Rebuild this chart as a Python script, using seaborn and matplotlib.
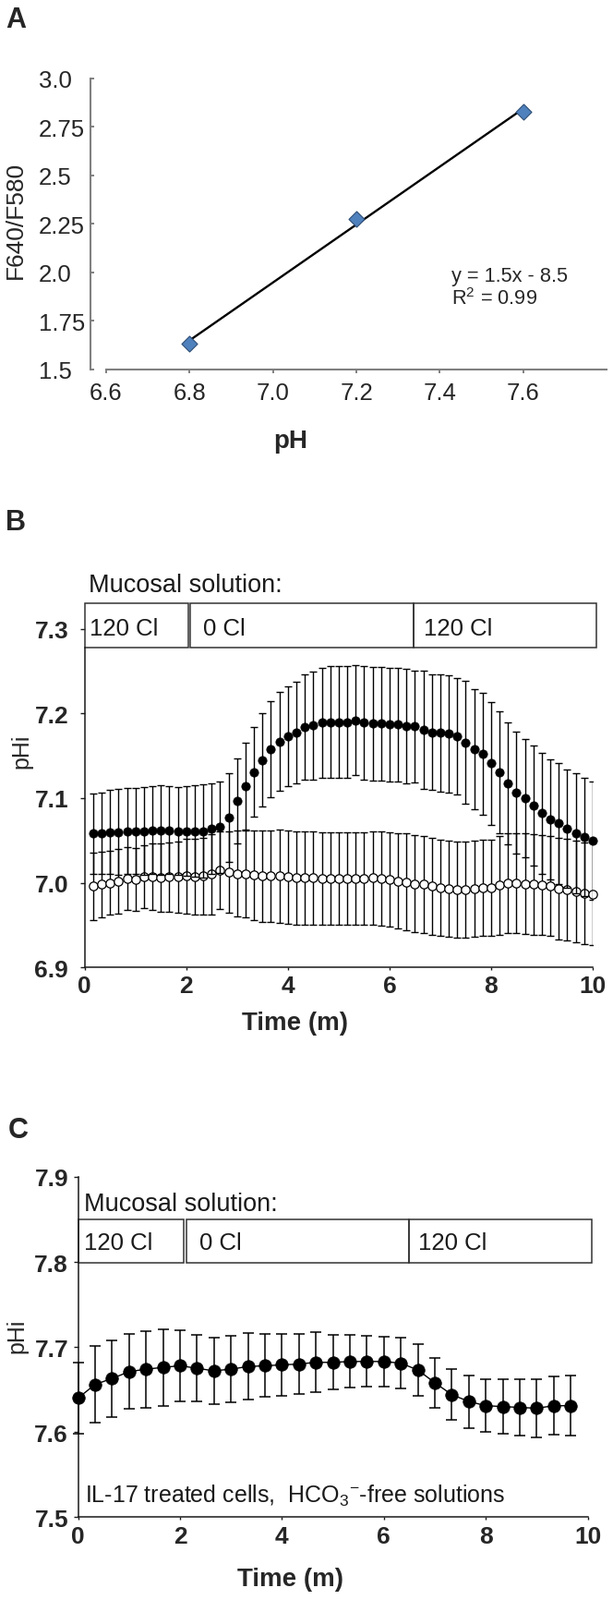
import numpy as np
import pandas as pd
import matplotlib
matplotlib.use('Agg')
import matplotlib.pyplot as plt
import seaborn as sns
from matplotlib.patches import Rectangle

sns.set_style('ticks')
plt.rcParams['font.family'] = ['Liberation Sans', 'DejaVu Sans']
plt.rcParams['mathtext.fontset'] = 'custom'
plt.rcParams['mathtext.rm'] = 'Liberation Sans'

# ---- panel A: calibration of the dye
calib_ph = [6.8, 7.2, 7.6]
calib_ratio = [1.633, 2.277, 2.827]

# ---- panel B: pHi in 10 s steps
time_b_s = [10, 20, 30, 40, 50, 60, 70, 80, 90, 100, 110, 120, 130, 140, 150,
            160, 170, 180, 190, 200, 210, 220, 230, 240, 250, 260, 270, 280, 290, 300,
            310, 320, 330, 340, 350, 360, 370, 380, 390, 400, 410, 420, 430, 440, 450,
            460, 470, 480, 490, 500, 510, 520, 530, 540, 550, 560, 570, 580, 590, 600]
phi_filled = [7.058, 7.059, 7.060, 7.060, 7.061, 7.061, 7.061, 7.062, 7.062, 7.062,
              7.061, 7.061, 7.061, 7.061, 7.064, 7.066, 7.077, 7.097, 7.114, 7.131,
              7.145, 7.158, 7.167, 7.173, 7.178, 7.184, 7.186, 7.189, 7.190, 7.190,
              7.190, 7.192, 7.189, 7.188, 7.188, 7.187, 7.187, 7.185, 7.185, 7.181,
              7.178, 7.177, 7.176, 7.173, 7.166, 7.158, 7.152, 7.141, 7.131, 7.117,
              7.107, 7.100, 7.091, 7.082, 7.075, 7.070, 7.064, 7.059, 7.054, 7.050]
sem_filled = [0.047, 0.048, 0.050, 0.051, 0.051, 0.051, 0.052, 0.052, 0.053, 0.052,
              0.052, 0.053, 0.054, 0.055, 0.053, 0.054, 0.052, 0.050, 0.052, 0.053,
              0.055, 0.057, 0.058, 0.059, 0.060, 0.062, 0.064, 0.065, 0.066, 0.066,
              0.066, 0.065, 0.067, 0.067, 0.067, 0.067, 0.067, 0.068, 0.066, 0.070,
              0.068, 0.069, 0.069, 0.069, 0.073, 0.071, 0.072, 0.073, 0.072, 0.072,
              0.072, 0.070, 0.071, 0.071, 0.071, 0.071, 0.070, 0.071, 0.070, 0.070]
phi_open = [6.996, 6.998, 7.000, 7.002, 7.005, 7.004, 7.007, 7.007, 7.006, 7.007,
            7.007, 7.008, 7.007, 7.008, 7.010, 7.015, 7.013, 7.011, 7.011, 7.009,
            7.008, 7.008, 7.008, 7.007, 7.006, 7.006, 7.006, 7.005, 7.005, 7.005,
            7.005, 7.005, 7.005, 7.006, 7.005, 7.004, 7.002, 7.001, 6.999, 6.998,
            6.996, 6.994, 6.993, 6.992, 6.992, 6.993, 6.994, 6.994, 6.997, 7.000,
            7.000, 6.999, 6.998, 6.997, 6.996, 6.993, 6.992, 6.990, 6.988, 6.987]
sem_open = [0.040, 0.039, 0.038, 0.038, 0.037, 0.037, 0.037, 0.039, 0.040, 0.041,
            0.042, 0.044, 0.045, 0.045, 0.047, 0.046, 0.048, 0.051, 0.052, 0.053,
            0.054, 0.054, 0.055, 0.055, 0.055, 0.055, 0.055, 0.055, 0.055, 0.055,
            0.055, 0.055, 0.055, 0.055, 0.056, 0.056, 0.056, 0.057, 0.057, 0.057,
            0.057, 0.057, 0.057, 0.057, 0.057, 0.057, 0.057, 0.057, 0.058, 0.059,
            0.059, 0.059, 0.059, 0.059, 0.059, 0.060, 0.060, 0.060, 0.060, 0.061]

# ---- panel C: IL-17 treated cells, 20 s steps
time_c_s = [0, 20, 40, 60, 80, 100, 120, 140, 160, 180, 200, 220, 240, 260, 280,
            300, 320, 340, 360, 380, 400, 420, 440, 460, 480, 500, 520, 540, 560, 580]
phi_c = [7.640, 7.656, 7.663, 7.671, 7.674, 7.676, 7.678, 7.675, 7.672, 7.674,
         7.677, 7.678, 7.679, 7.680, 7.682, 7.682, 7.683, 7.683, 7.683, 7.681,
         7.673, 7.658, 7.644, 7.636, 7.631, 7.630, 7.629, 7.628, 7.631, 7.631]
sem_c = [0.042, 0.045, 0.045, 0.044, 0.045, 0.045, 0.042, 0.039, 0.039, 0.039,
         0.039, 0.037, 0.036, 0.035, 0.035, 0.032, 0.031, 0.030, 0.029, 0.030,
         0.030, 0.029, 0.030, 0.031, 0.031, 0.032, 0.033, 0.034, 0.034, 0.035]

# solution bars: (start, end, label, label x)  in minutes
segments_b = [(0.0, 2.04, '120 Cl', 0.10), (2.08, 6.48, '0 Cl', 2.33), (6.48, 10.07, '120 Cl', 6.67)]
segments_c = [(0.0, 2.07, '120 Cl', 0.116), (2.12, 6.50, '0 Cl', 2.375), (6.50, 10.08, '120 Cl', 6.667)]

calib = pd.DataFrame({'ph': calib_ph, 'ratio': calib_ratio})
df_b = pd.DataFrame({'t': np.array(time_b_s) / 60, 'filled': phi_filled, 'sem_f': sem_filled,
                     'open': phi_open, 'sem_o': sem_open})
df_c = pd.DataFrame({'t': np.array(time_c_s) / 60, 'phi': phi_c, 'sem': sem_c})

W, H = 664, 1733
fig = plt.figure(figsize=(W / 100, H / 100), dpi=100)


def place(left, top, right, bottom):
    return [left / W, 1 - bottom / H, (right - left) / W, (bottom - top) / H]


axA = fig.add_axes(place(115, 85.7, 657, 400.7))
axB = fig.add_axes(place(91.7, 654.2, 642, 1048.3))
axC = fig.add_axes(place(84.6, 1275, 636.6, 1643.3))

# ---------------- A
grey = '#808080'
txt = '#262626'
sns.regplot(x='ph', y='ratio', data=calib, ax=axA, ci=None, marker='D',
            scatter_kws=dict(s=75, color='#4f81bd', edgecolor='#2c4d75', linewidths=0.8,
                             alpha=1, zorder=3),
            line_kws=dict(color='black', lw=1.7, zorder=2))
axA.set_xlim(6.6, 7.8)
axA.set_ylim(1.5, 3.0)
axA.set_xticks([6.6, 6.8, 7.0, 7.2, 7.4, 7.6])
axA.set_xticklabels(['6.6', '6.8', '7.0', '7.2', '7.4', '7.6'])
axA.set_yticks([1.5, 1.75, 2.0, 2.25, 2.5, 2.75, 3.0])
axA.set_yticklabels(['1.5', '1.75', '2.0', '2.25', '2.5', '2.75', '3.0'])
for s in ['top', 'right']:
    axA.spines[s].set_visible(False)
for s in ['left', 'bottom']:
    axA.spines[s].set_color(grey)
    axA.spines[s].set_linewidth(1.5)
axA.spines['left'].set_position(('outward', 12.5))
axA.tick_params(axis='y', direction='in', length=3, width=1.4, color=grey,
                labelsize=18.5, labelcolor=txt, pad=40.3)
axA.tick_params(axis='x', direction='out', length=3, width=1.4, color=grey,
                labelsize=18.5, labelcolor=txt, pad=6.3)
for lab in axA.get_yticklabels():
    lab.set_horizontalalignment('left')
axA.set_xlabel('pH', fontsize=20, fontweight='bold', color=txt)
axA.xaxis.set_label_coords(0.369, -0.245)
axA.xaxis.label.set_va('center')
axA.set_ylabel('F640/F580', fontsize=19, color=txt)
axA.yaxis.set_label_coords(-0.1808, 0.5165)
axA.yaxis.label.set_va('center')
axA.text(7.427, 1.982, 'y = 1.5x - 8.5', fontsize=15.7, color=txt, va='center')
axA.text(7.427, 1.865, 'R$^2$ = 0.99', fontsize=15.7, color=txt, va='center')

# ---------------- B
ink = '#1a1a1a'
axB.errorbar(df_b['t'], df_b['open'], yerr=df_b['sem_o'], fmt='none', ecolor='black',
             elinewidth=1.0, capsize=2.6, capthick=1.0, zorder=2)
sns.scatterplot(x='t', y='open', data=df_b, ax=axB, s=45, color='white', edgecolor='black',
                linewidth=0.9, zorder=3, clip_on=False)
axB.errorbar(df_b['t'], df_b['filled'], yerr=df_b['sem_f'], fmt='none', ecolor='black',
             elinewidth=1.0, capsize=2.6, capthick=1.0, zorder=4)
sns.scatterplot(x='t', y='filled', data=df_b, ax=axB, s=45, color='black', edgecolor='black',
                linewidth=0.5, zorder=5, clip_on=False)

axB.set_xlim(0, 10)
axB.set_ylim(6.9, 7.33)
axB.set_xticks([0, 2, 4, 6, 8, 10])
axB.set_yticks([6.9, 7.0, 7.1, 7.2, 7.3])
for s in ['top', 'right']:
    axB.spines[s].set_visible(False)
for s in ['left', 'bottom']:
    axB.spines[s].set_color(ink)
    axB.spines[s].set_linewidth(1.1)
axB.spines['left'].set_bounds(6.9, 7.278)
axB.tick_params(axis='y', direction='out', length=3.6, width=1.0, color=ink,
                labelsize=19, pad=9)
axB.tick_params(axis='x', direction='out', length=2.4, width=1.0, color=ink,
                labelsize=19, pad=2.8)
for lab in axB.get_xticklabels() + axB.get_yticklabels():
    lab.set_fontweight('bold')
axB.set_xlabel('Time (m)', fontsize=20, fontweight='bold')
axB.xaxis.set_label_coords(0.414, -0.152)
axB.xaxis.label.set_va('center')
axB.set_ylabel('pHi', fontsize=18)
axB.yaxis.set_label_coords(-0.124, 0.597)
axB.yaxis.label.set_va('center')

for start, end, label, lx in segments_b:
    axB.add_patch(Rectangle((start, 7.278), end - start, 7.33 - 7.278, fill=False,
                            edgecolor='#333333', lw=1.1, clip_on=False))
    axB.text(lx, 7.2935, label, fontsize=18.5, va='baseline', color=ink)
axB.text(0.08, 7.3444, 'Mucosal solution:', fontsize=19.5, va='baseline', color=ink)

# ---------------- C
sns.lineplot(x='t', y='phi', data=df_c, ax=axC, color='black', lw=1.0, errorbar=None, zorder=2)
axC.errorbar(df_c['t'], df_c['phi'], yerr=df_c['sem'], fmt='none', ecolor='black',
             elinewidth=1.1, capsize=4.3, capthick=1.1, zorder=3, clip_on=False)
sns.scatterplot(x='t', y='phi', data=df_c, ax=axC, s=95, color='black', edgecolor='black',
                linewidth=0.5, zorder=4, clip_on=False)
axC.set_xlim(0, 10)
axC.set_ylim(7.5, 7.9)
axC.set_xticks([0, 2, 4, 6, 8, 10])
axC.set_yticks([7.5, 7.6, 7.7, 7.8, 7.9])
for s in ['top', 'right']:
    axC.spines[s].set_visible(False)
for s in ['left', 'bottom']:
    axC.spines[s].set_color(ink)
    axC.spines[s].set_linewidth(1.1)
axC.tick_params(axis='y', direction='out', length=3.6, width=1.0, color=ink,
                labelsize=19, pad=4)
axC.tick_params(axis='x', direction='out', length=2.4, width=1.0, color=ink,
                labelsize=19, pad=4)
for lab in axC.get_xticklabels() + axC.get_yticklabels():
    lab.set_fontweight('bold')
axC.set_xlabel('Time (m)', fontsize=20, fontweight='bold')
axC.xaxis.set_label_coords(0.417, -0.181)
axC.xaxis.label.set_va('center')
axC.set_ylabel('pHi', fontsize=18)
axC.yaxis.set_label_coords(-0.119, 0.534)
axC.yaxis.label.set_va('center')

for start, end, label, lx in segments_c:
    axC.add_patch(Rectangle((start, 7.7985), end - start, 7.850 - 7.7985, fill=False,
                            edgecolor='#333333', lw=1.1, clip_on=False))
    axC.text(lx, 7.815, label, fontsize=18.5, va='baseline', color=ink)
axC.text(0.116, 7.8612, 'Mucosal solution:', fontsize=19.5, va='baseline', color=ink)
axC.text(0.138, 7.518, 'IL-17 treated cells,  HCO$_3$$^{-}$-free solutions', fontsize=18,
         va='baseline', color=ink)

# panel letters
for letter, x, y in [('A', 6.3, 30), ('B', 6.3, 574), ('C', 8.5, 1232)]:
    fig.text(x / W, 1 - y / H, letter, fontsize=22, fontweight='bold', va='baseline', ha='left')

fig.savefig('out.png', dpi=100)
